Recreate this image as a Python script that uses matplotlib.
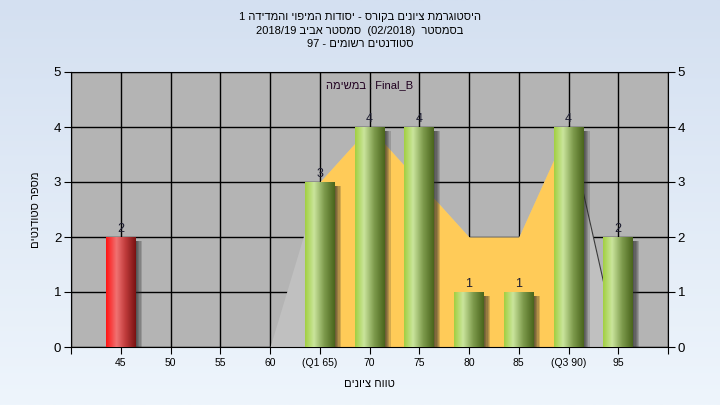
import re
import numpy as np
import matplotlib.pyplot as plt
from matplotlib.colors import LinearSegmentedColormap

plt.rcParams['font.family'] = ['Liberation Sans', 'DejaVu Sans']

# -------------------------------
# data
grades = ['45', '50', '55', '60', '(Q1 65)', '70', '75', '80', '85', '(Q3 90)', '95']
counts = [2, 0, 0, 0, 3, 4, 4, 1, 1, 4, 2]
curve = [0, 0, 0, 0, 3, 4, 3, 2, 2, 4, 0]      # grey area behind the bars
q1_idx, q3_idx = 4, 9                        # yellow part between Q1 and Q3
fail_idx = [0]                               # red bars

title_lines = ['היסטוגרמת ציונים בקורס - יסודות המיפוי והמדידה 1',
               'בסמסטר  (02/2018)  סמסטר אביב 2018/19',
               'סטודנטים רשומים - 97']
task_word, task_name = 'במשימה', 'Final_B'
x_title = 'טווח ציונים'
y_title = 'מספר סטודנטים'


def rtl(s):
    # matplotlib draws left to right: lay a right-to-left run out in visual order,
    # number groups keep their own order
    parts = re.findall(r'[0-9/]+|.', s)[::-1]
    mirror = {'(': ')', ')': '('}
    return ''.join(mirror.get(p, p) for p in parts)


x = np.arange(len(grades))

# -------------------------------
fig = plt.figure(figsize=(7.2, 4.05), dpi=100)

# soft blue background
bg = fig.add_axes([0, 0, 1, 1], zorder=-5)
grad = np.linspace(0, 1, 256).reshape(-1, 1)
bg_cmap = LinearSegmentedColormap.from_list('bg', ['#d4e0f1', '#eef5fc'])
bg.imshow(grad, aspect='auto', cmap=bg_cmap, extent=[0, 1, 0, 1], origin='upper')
bg.axis('off')

ax = fig.add_axes([71/720, 58/405, 597/720, 275/405])
ax.set_facecolor('#b4b4b4')
ax.set_axisbelow(True)
ax.grid(color='black', lw=1)

# areas
ax.fill_between(x, curve, color='#c0c0c0', lw=0, zorder=1)
ax.fill_between(x[q1_idx:q3_idx + 1], curve[q1_idx:q3_idx + 1],
                color='#ffcb58', lw=0, zorder=1.5)
ax.plot(x[q3_idx:q3_idx + 2], curve[q3_idx:q3_idx + 2], color='#3a3a3a', lw=0.8, zorder=1.6)

# cylinder-looking bars
green = LinearSegmentedColormap.from_list('g', [(0, '#a2d042'), (0.3, '#cae59c'),
                                                (0.65, '#7d9a4c'), (1, '#4a651c')])
red = LinearSegmentedColormap.from_list('r', [(0, '#ff1515'), (0.35, '#f07272'),
                                              (0.65, '#c03c3c'), (1, '#7a1212')])
row = np.linspace(0, 1, 64).reshape(1, -1)
w = 0.6
for i, c in enumerate(counts):
    if c == 0:
        continue
    # soft shadow on the right
    for sw in [0.025, 0.05, 0.075, 0.1, 0.125]:
        ax.add_patch(plt.Rectangle((x[i] + w/2, 0), sw, c - 0.08, color='#2a2a2a',
                                   alpha=0.2, lw=0, zorder=2))
    cm = red if i in fail_idx else green
    ax.imshow(row, cmap=cm, aspect='auto', extent=[x[i] - w/2, x[i] + w/2, 0, c],
              zorder=3, interpolation='bilinear')
    ax.text(x[i], c + 0.04, str(c), ha='center', va='bottom', fontsize=9, color='#1c1c30')

ax.set_xlim(-1, 11)
ax.set_ylim(0, 5)
ax.set_xticks(np.arange(-1, 12))
ax.set_xticklabels([''] + grades + [''])
ax.set_yticks(range(6))
ax.tick_params(axis='x', direction='out', length=5, labelsize=7.5, color='black', pad=3)
ax.tick_params(axis='y', direction='out', length=5, labelsize=9.5, left=True, right=True,
               labelleft=True, labelright=True, pad=2)
for s in ax.spines.values():
    s.set_color('black')

ax.text(0.5, 0.953, rtl(task_word) + ' : ' + task_name, transform=ax.transAxes,
        ha='center', va='center', fontsize=8, color='#200020')
ax.set_xlabel(rtl(x_title), fontsize=8, labelpad=8)
ax.set_ylabel(rtl(y_title), fontsize=8, labelpad=9)

for j, line in enumerate(title_lines):
    fig.text(0.5, 1 - (17 + 13.5*j)/405, rtl(line), ha='center', va='center', fontsize=8)

fig.savefig('out.png', dpi=100)
